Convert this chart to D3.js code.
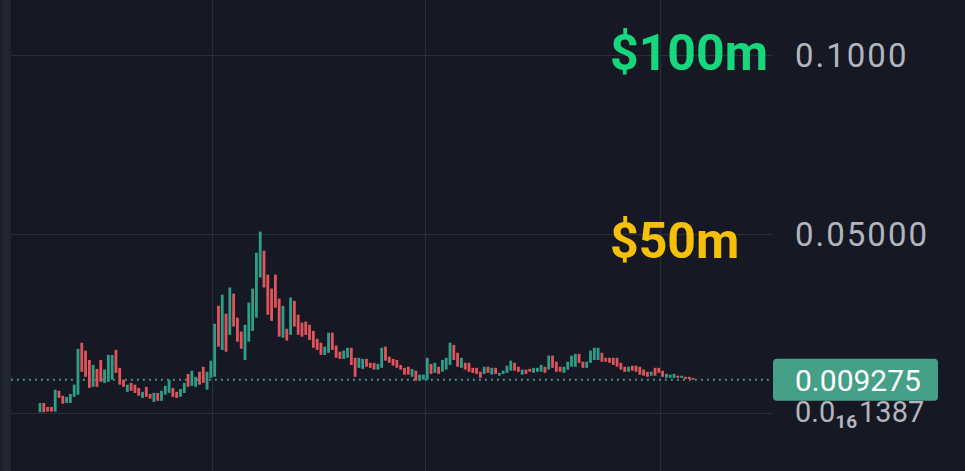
<!DOCTYPE html>
<html><head><meta charset="utf-8">
<script src="https://cdn.jsdelivr.net/npm/d3@7"></script>
<style>html,body{margin:0;padding:0;background:#161923;}svg{display:block;}</style>
</head><body>
<svg id="chart" width="965" height="471"></svg>
<script>
// ---- data ----
const openVals = [0.0002,0.0028,0.0017,0.0017,0.0004,0.0062,0.0048,0.0028,0.0028,0.0045,
0.0051,0.0196,0.0174,0.0148,0.0073,0.0123,0.0148,0.0084,0.0087,0.0093,
0.0176,0.0126,0.0093,0.0059,0.0084,0.0079,0.0070,0.0042,0.0073,0.0053,
0.0031,0.0056,0.0034,0.0051,0.0056,0.0070,0.0059,0.0045,0.0056,0.0109,
0.0076,0.0073,0.0115,0.0129,0.0065,0.0098,0.0101,0.0299,0.0176,0.0277,
0.0218,0.0333,0.0266,0.0227,0.0148,0.0199,0.0229,0.0266,0.0378,0.0453,
0.0386,0.0347,0.0386,0.0319,0.0210,0.0235,0.0218,0.0313,0.0274,0.0252,
0.0255,0.0246,0.0229,0.0207,0.0196,0.0162,0.0168,0.0224,0.0188,0.0171,
0.0151,0.0154,0.0182,0.0154,0.0126,0.0123,0.0151,0.0140,0.0140,0.0121,
0.0126,0.0185,0.0157,0.0151,0.0148,0.0134,0.0126,0.0129,0.0101,0.0118,
0.0090,0.0093,0.0093,0.0137,0.0112,0.0129,0.0115,0.0121,0.0134,0.0190,
0.0168,0.0126,0.0140,0.0140,0.0126,0.0126,0.0115,0.0109,0.0129,0.0107,
0.0126,0.0104,0.0109,0.0112,0.0118,0.0140,0.0129,0.0107,0.0121,0.0123,
0.0112,0.0115,0.0115,0.0129,0.0121,0.0160,0.0143,0.0129,0.0112,0.0121,
0.0129,0.0129,0.0165,0.0143,0.0126,0.0140,0.0148,0.0148,0.0168,0.0154,
0.0154,0.0154,0.0154,0.0140,0.0129,0.0115,0.0132,0.0132,0.0129,0.0121,
0.0115,0.0104,0.0126,0.0126,0.0118,0.0098,0.0098,0.0098,0.0104,0.0098,
0.0101,0.0101,0.0098];
const closeVals = [0.0028,0.0002,0.0004,0.0004,0.0065,0.0042,0.0026,0.0045,0.0053,0.0079,
0.0179,0.0115,0.0101,0.0070,0.0134,0.0073,0.0087,0.0121,0.0162,0.0162,
0.0112,0.0079,0.0073,0.0079,0.0062,0.0056,0.0048,0.0059,0.0045,0.0040,
0.0056,0.0034,0.0062,0.0076,0.0093,0.0045,0.0042,0.0067,0.0084,0.0073,
0.0118,0.0101,0.0079,0.0084,0.0115,0.0146,0.0249,0.0185,0.0330,0.0171,
0.0350,0.0241,0.0199,0.0179,0.0246,0.0308,0.0347,0.0447,0.0506,0.0350,
0.0274,0.0257,0.0294,0.0213,0.0299,0.0202,0.0322,0.0241,0.0218,0.0213,
0.0218,0.0204,0.0182,0.0176,0.0162,0.0185,0.0224,0.0176,0.0154,0.0151,
0.0174,0.0182,0.0134,0.0101,0.0154,0.0151,0.0129,0.0126,0.0121,0.0137,
0.0182,0.0146,0.0140,0.0132,0.0126,0.0121,0.0107,0.0107,0.0123,0.0090,
0.0107,0.0107,0.0154,0.0109,0.0140,0.0109,0.0148,0.0154,0.0196,0.0148,
0.0129,0.0154,0.0121,0.0115,0.0112,0.0109,0.0098,0.0129,0.0112,0.0126,
0.0109,0.0112,0.0118,0.0132,0.0146,0.0118,0.0115,0.0121,0.0109,0.0115,
0.0126,0.0126,0.0134,0.0112,0.0160,0.0126,0.0115,0.0115,0.0129,0.0143,
0.0160,0.0165,0.0140,0.0126,0.0143,0.0174,0.0182,0.0182,0.0143,0.0143,
0.0140,0.0134,0.0129,0.0121,0.0115,0.0129,0.0118,0.0115,0.0107,0.0104,
0.0101,0.0115,0.0104,0.0112,0.0101,0.0109,0.0107,0.0109,0.0098,0.0104,
0.0095,0.0095,0.009275];
const tickValues = [0.1, 0.05];
const tickLabels = ["0.1000", "0.05000"];
const zeroLabel = {base: "0.0", sub: "16", rest: "1387"};
const lastPrice = 0.009275;
const lastPriceLabel = "0.009275";
const capLabels = [{text: "$100m", value: 0.1, color: "#17d77c"},
                   {text: "$50m", value: 0.05, color: "#f6c00a"}];
const timeGridIdx = [45.3, 101.3, 163.2];

// ---- drawing ----
const W = 965, H = 471;
const svg = d3.select("#chart");
const plotLeft = 11, plotRight = 773;
const n = openVals.length;
const x = d3.scaleLinear().domain([0, n - 1]).range([40, 693]);
const y = d3.scaleLinear().domain([0, 0.1]).range([413, 54.5]);
const FONT = "Roboto, sans-serif";

svg.append("rect").attr("width", W).attr("height", H).attr("fill", "#161923");
svg.append("rect").attr("x", 0).attr("y", 0).attr("width", plotLeft).attr("height", H).attr("fill", "#222530");
svg.append("rect").attr("x", 0).attr("y", 0).attr("width", 2).attr("height", H).attr("fill", "#1b1e28");

// horizontal grid
svg.append("g").selectAll("line").data([...tickValues, 0]).join("line")
  .attr("x1", plotLeft).attr("x2", plotRight)
  .attr("y1", d => Math.round(y(d)) + 0.5).attr("y2", d => Math.round(y(d)) + 0.5)
  .attr("stroke", "#2a2e39").attr("stroke-width", 1);
// vertical grid
svg.append("g").selectAll("line").data(timeGridIdx).join("line")
  .attr("x1", d => Math.round(x(d)) + 0.5).attr("x2", d => Math.round(x(d)) + 0.5)
  .attr("y1", 0).attr("y2", H)
  .attr("stroke", "#2a2e39").attr("stroke-width", 1);

// last price dotted line
svg.append("line")
  .attr("x1", plotLeft).attr("x2", plotRight)
  .attr("y1", y(lastPrice)).attr("y2", y(lastPrice))
  .attr("stroke", "#4a9d88").attr("stroke-width", 1.8)
  .attr("stroke-dasharray", "1.8,4.2");

// candles
const candles = d3.range(n).map(i => ({i, o: openVals[i], c: closeVals[i]}));
const bw = 2.8;
svg.append("g").selectAll("rect").data(candles).join("rect")
  .attr("x", d => x(d.i) - bw / 2)
  .attr("width", bw)
  .attr("y", d => y(Math.max(d.o, d.c)))
  .attr("height", d => Math.max(1, Math.abs(y(d.o) - y(d.c))))
  .attr("fill", d => d.c >= d.o ? "#2f9e88" : "#e2545c");

// right axis labels
const axis = d3.axisRight(y).tickValues(tickValues).tickFormat((d, i) => tickLabels[i]).tickSize(0).tickPadding(0);
const ag = svg.append("g").attr("transform", `translate(795,0)`).call(axis);
ag.select(".domain").remove();
ag.selectAll("text").attr("fill", "#b2b5be").style("font-family", FONT).style("font-size", "33px")
  .style("letter-spacing", "2px")
  .attr("dy", "0.36em").attr("text-anchor", "start");

// zero label with subscript
const zt = svg.append("text").attr("x", 795).attr("y", y(0) + 9)
  .attr("fill", "#b2b5be").style("font-family", FONT).style("font-size", "29px");
zt.append("tspan").text(zeroLabel.base);
zt.append("tspan").attr("dy", 6).style("font-size", "19px").style("font-weight", "bold").text(zeroLabel.sub);
zt.append("tspan").attr("dy", -6).attr("dx", 2).text(zeroLabel.rest);

// last price label
const ly = y(lastPrice);
svg.append("rect").attr("x", 773).attr("y", ly - 21).attr("width", 165).attr("height", 42)
  .attr("rx", 4).attr("fill", "#45a088");
svg.append("text").attr("x", 795).attr("y", ly).attr("dy", "0.36em")
  .attr("fill", "#ffffff").style("font-family", FONT).style("font-size", "30px")
  .text(lastPriceLabel);

// cap labels (baseline offsets below each level)
const capOffset = [15.5, 24.5];
svg.append("g").selectAll("text").data(capLabels).join("text")
  .attr("x", 610).attr("y", (d, i) => y(d.value) + capOffset[i])
  .attr("text-anchor", "start")
  .attr("fill", d => d.color)
  .style("font-family", FONT).style("font-size", "50px").style("font-weight", "bold")
  .text(d => d.text);
</script>
</body></html>
